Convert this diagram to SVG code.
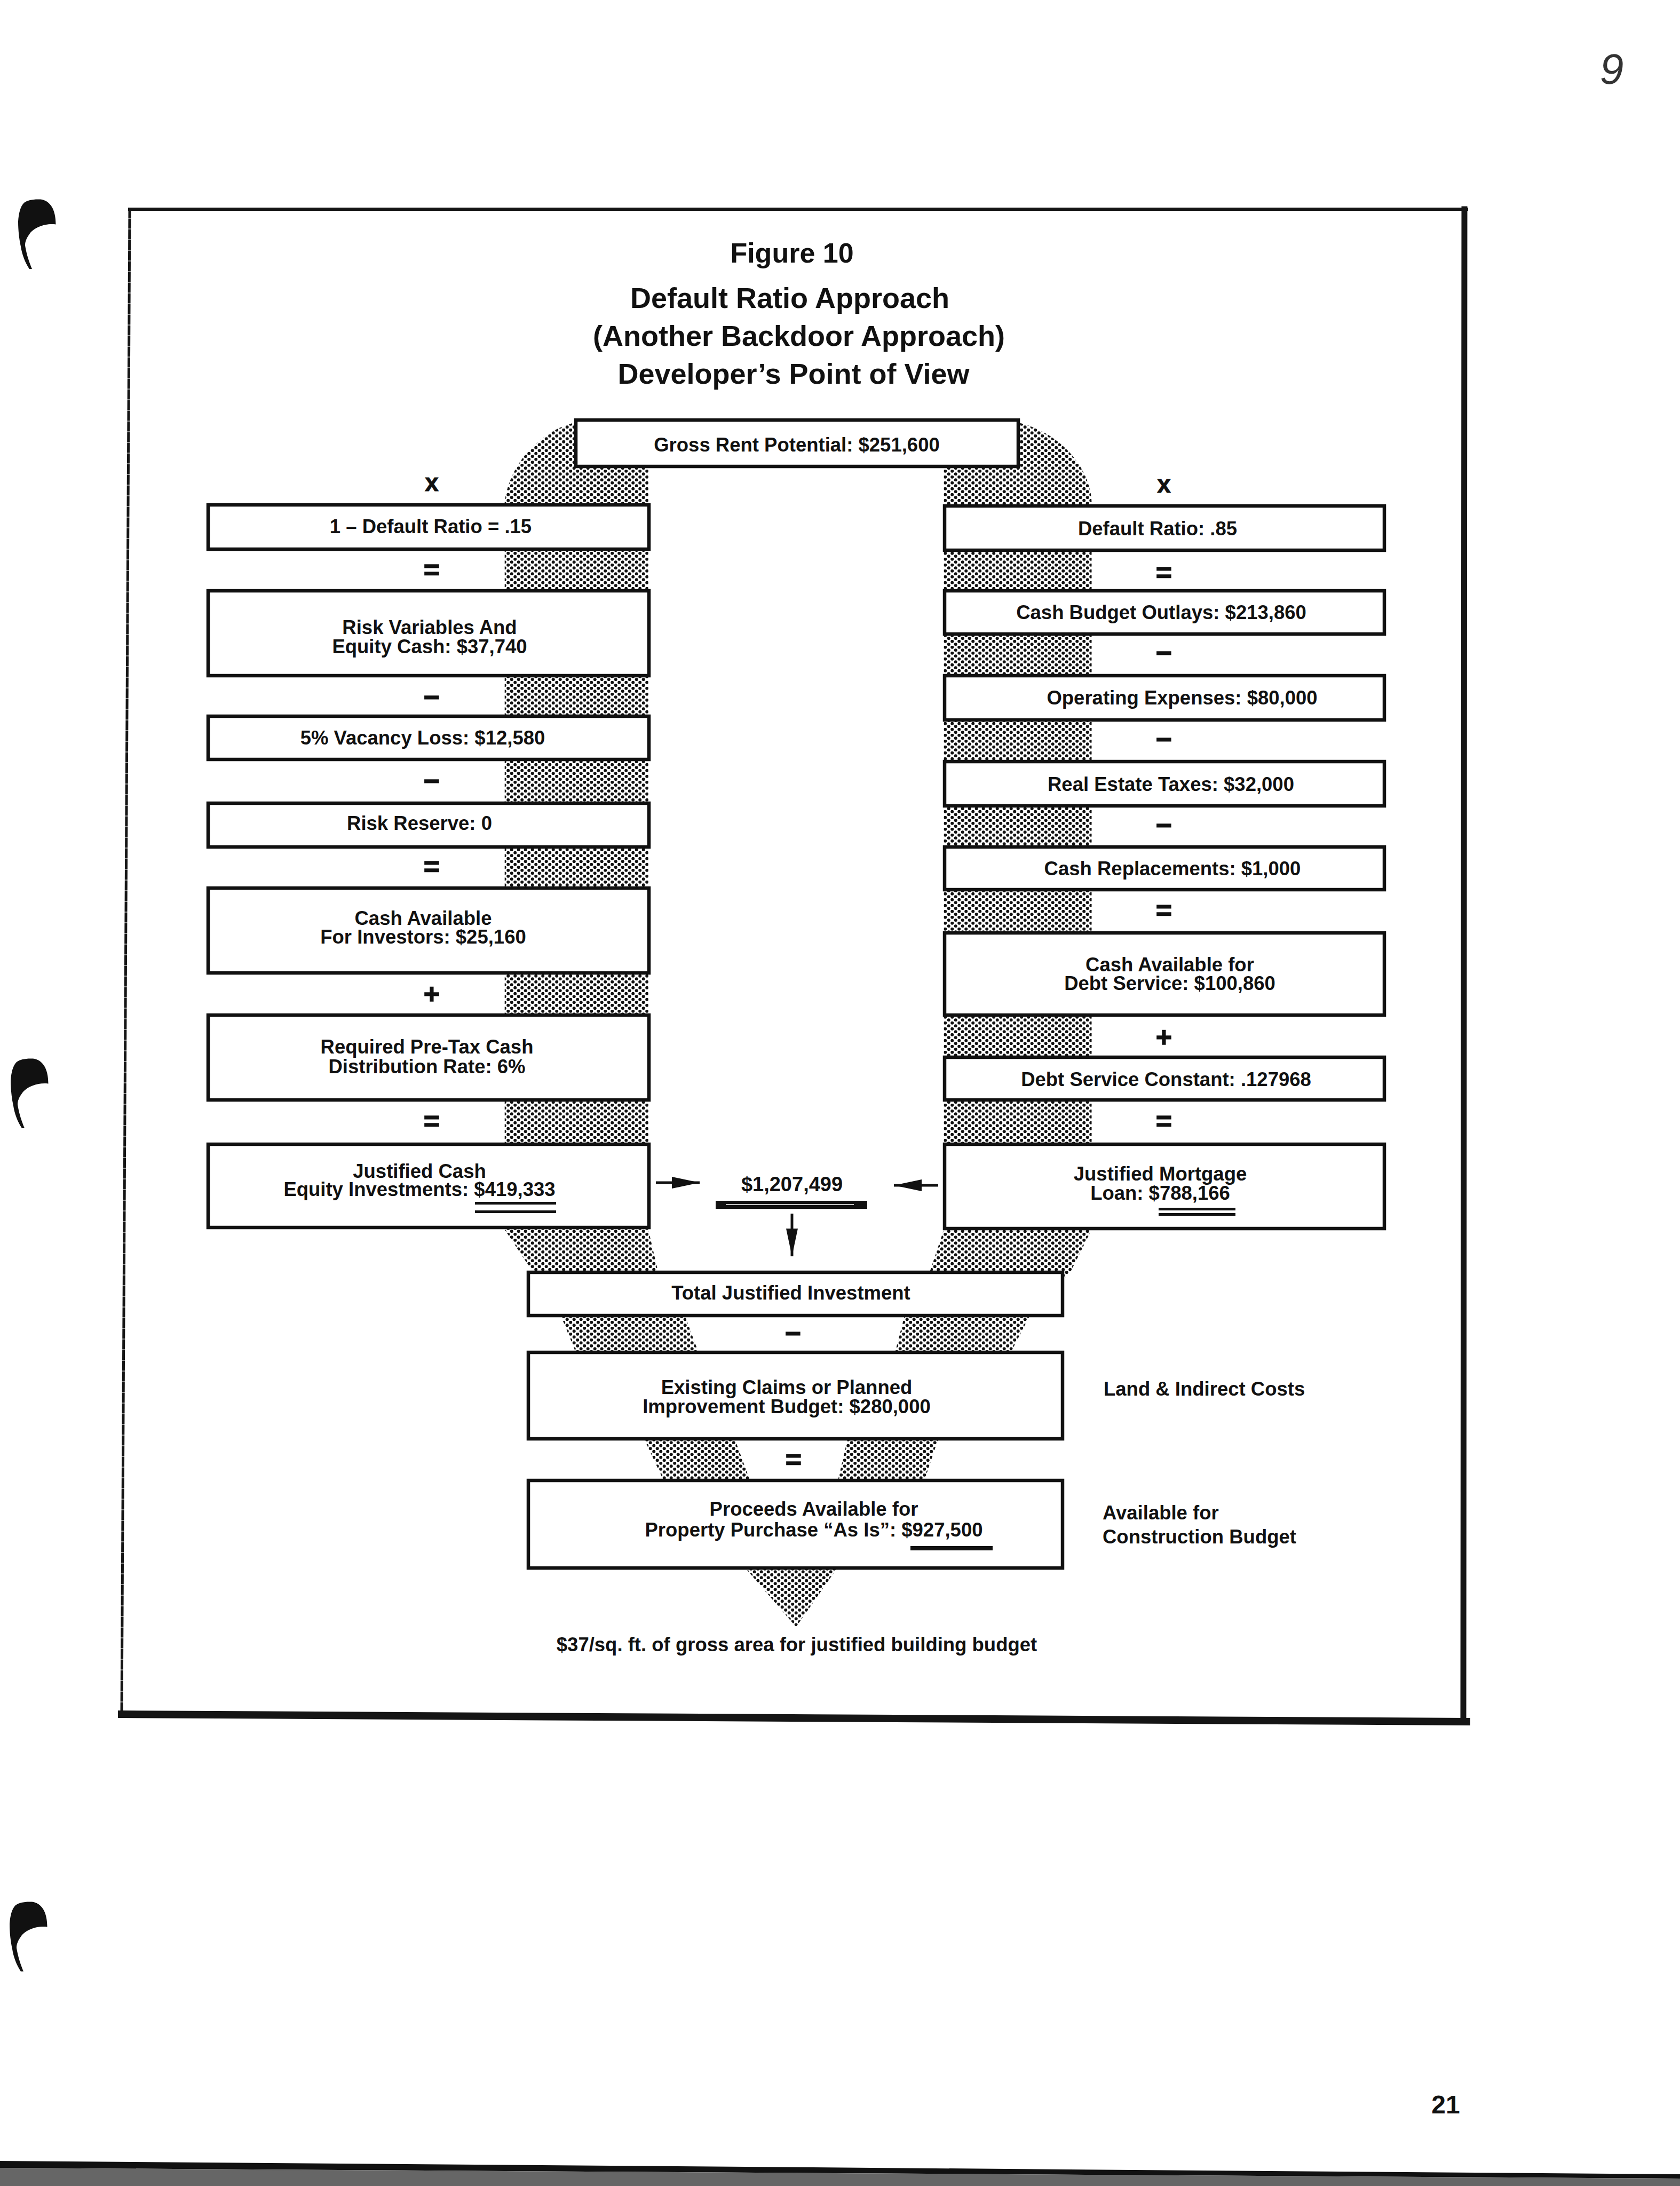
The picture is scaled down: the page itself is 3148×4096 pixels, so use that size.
<svg xmlns="http://www.w3.org/2000/svg" width="3148" height="4096" viewBox="0 0 3148 4096">
<style>
.t{font-family:"Liberation Sans",Arial,Helvetica,sans-serif;font-weight:bold;fill:#111;text-anchor:middle}
.ttl{font-size:54px}
.lbl{font-size:36.5px}
.side{font-size:36.5px;text-anchor:start}
.op{font-size:52px;stroke:#111;stroke-width:1.5}
.opx{font-size:46px;stroke:#111;stroke-width:1}
.box{fill:#fff;stroke:#111;stroke-width:6.5}
.frame{stroke:#151515;fill:none;stroke-linecap:square}
.conn{stroke:#111;stroke-width:5;fill:none}
.ul{fill:#111}
</style>
<defs>
<pattern id="stip" patternUnits="userSpaceOnUse" width="13" height="11">
<circle cx="3.2" cy="2.7" r="3" fill="#111"/>
<circle cx="9.7" cy="8.2" r="3" fill="#111"/>
</pattern>
<marker id="ah" markerUnits="userSpaceOnUse" markerWidth="52" markerHeight="22" viewBox="0 0 52 22" refX="52" refY="11" orient="auto">
<path d="M0,0 L52,11 L0,22 Z" fill="#111"/>
</marker>
<path id="blob" d="M75.8,373.6 C94,376 104.5,392 104.5,420.6 C86,418 63,426 55,439 C50,446 47,452 47,460 C50,478 55,492 60,504 L55,504 C47,492 41,476 39,462 C36,448 34,432 34,415 C35,400 38,387 45,380 C52,375 62,373 75.8,373.6 Z" fill="#111"/>
</defs>
<rect x="0" y="0" width="3148" height="4096" fill="#fff"/>

<g id="page-marks">
<use href="#blob"/>
<use href="#blob" transform="translate(-14,1610)"/>
<use href="#blob" transform="translate(-16,3190)"/>
<text class="t" x="3020" y="157" style="font-size:80px;font-weight:normal;font-style:italic;fill:#333">9</text>
<text class="t" x="2709" y="3960" style="font-size:48px">21</text>
<polygon points="0,4049 3148,4074 3148,4082 0,4062" fill="#111"/>
<polygon points="0,4062 3148,4082 3148,4096 0,4096" fill="#666"/>
</g>

<g id="frame">
<line class="frame" x1="243" y1="392" x2="2748" y2="392" stroke-width="6"/>
<line class="frame" x1="243" y1="392" x2="228" y2="3212" stroke-width="5" stroke-dasharray="14 6"/>
<line class="frame" x1="2744" y1="392" x2="2742" y2="3226" stroke-width="11"/>
<line class="frame" x1="228" y1="3212" x2="2748" y2="3226" stroke-width="14"/>
</g>

<g id="title">
<text class="t" x="1484" y="492" style="font-size:52px">Figure 10</text>
<text class="t ttl" x="1480" y="577">Default Ratio Approach</text>
<text class="t ttl" x="1497" y="648">(Another Backdoor Approach)</text>
<text class="t ttl" x="1487" y="719">Developer’s Point of View</text>
</g>

<g id="stipple">
<path fill="url(#stip)" fill-rule="evenodd" d="M1079,791.6 C1018.8,804.6 956.1,862.1 945.7,940.5 L945.7,2304.1 L997.9,2382.5 L1050.2,2463.5 L1078.9,2534 L1206.9,2696 L1243.5,2774.4 L1395,2936.3 L1491.7,3048.6 L1570,2936.3 L1732,2774.4 L1758.1,2696 L1894,2534 L1930.6,2463.5 L2006.3,2382.5 L2045.5,2304.1 L2045.5,940.5 C2042.9,875.2 1985.4,809.8 1907,791.6 Z M1214.8,836 L1214.8,2304.1 L1233,2382.5 L1282.7,2463.5 L1308.8,2534 L1376.7,2696 L1405.5,2774.4 L1486.5,2873.6 L1570,2774.4 L1588.3,2696 L1677.2,2534 L1695.4,2463.5 L1742.5,2382.5 L1768.6,2304.1 L1768.6,836 Z"/>
</g>

<g id="operators">
<text class="t opx" x="809" y="920">x</text>
<text class="t op" x="809" y="1085">=</text>
<text class="t op" x="809" y="1324">−</text>
<text class="t op" x="809" y="1481">−</text>
<text class="t op" x="809" y="1641">=</text>
<text class="t op" x="809" y="1880">+</text>
<text class="t op" x="809" y="2118">=</text>
<text class="t opx" x="2181" y="923">x</text>
<text class="t op" x="2181" y="1090">=</text>
<text class="t op" x="2181" y="1241">−</text>
<text class="t op" x="2181" y="1403">−</text>
<text class="t op" x="2181" y="1564">−</text>
<text class="t op" x="2181" y="1723">=</text>
<text class="t op" x="2181" y="1961">+</text>
<text class="t op" x="2181" y="2118">=</text>
<text class="t op" x="1486" y="2516">−</text>
<text class="t op" x="1487" y="2752">=</text>
</g>

<g id="connectors">
<line class="conn" x1="1229" y1="2216" x2="1311" y2="2216" marker-end="url(#ah)"/>
<line class="conn" x1="1758" y1="2221" x2="1675" y2="2221" marker-end="url(#ah)"/>
<line class="conn" x1="1484" y1="2274" x2="1484" y2="2354" marker-end="url(#ah)"/>
</g>

<g id="n-gross">
<rect class="box" x="1079" y="787" width="829" height="87"/>
<text class="t lbl" x="1493" y="846">Gross Rent Potential: $251,600</text>
</g>

<g id="n-one-minus-default">
<rect class="box" x="390" y="946" width="826" height="83"/>
<text class="t lbl" x="807" y="999">1 – Default Ratio = .15</text>
</g>
<g id="n-risk-variables">
<rect class="box" x="390" y="1107" width="826" height="159"/>
<text class="t lbl" x="805" y="1188">Risk Variables And</text>
<text class="t lbl" x="805" y="1224">Equity Cash: $37,740</text>
</g>
<g id="n-vacancy">
<rect class="box" x="390" y="1342" width="826" height="81"/>
<text class="t lbl" x="792" y="1395">5% Vacancy Loss: $12,580</text>
</g>
<g id="n-risk-reserve">
<rect class="box" x="390" y="1505" width="826" height="82"/>
<text class="t lbl" x="786" y="1555">Risk Reserve: 0</text>
</g>
<g id="n-cash-investors">
<rect class="box" x="390" y="1664" width="826" height="159"/>
<text class="t lbl" x="793" y="1733">Cash Available</text>
<text class="t lbl" x="793" y="1768">For Investors: $25,160</text>
</g>
<g id="n-required-rate">
<rect class="box" x="390" y="1902" width="826" height="159"/>
<text class="t lbl" x="800" y="1974">Required Pre-Tax Cash</text>
<text class="t lbl" x="800" y="2011">Distribution Rate: 6%</text>
</g>
<g id="n-justified-cash">
<rect class="box" x="390" y="2144" width="826" height="156"/>
<text class="t lbl" x="786" y="2207">Justified Cash</text>
<text class="t lbl" x="786" y="2241">Equity Investments: $419,333</text>
<rect class="ul" x="890" y="2252" width="152" height="5"/>
<rect class="ul" x="890" y="2268" width="152" height="5"/>
</g>

<g id="n-default-ratio">
<rect class="box" x="1770" y="948" width="824" height="83"/>
<text class="t lbl" x="2169" y="1003">Default Ratio: .85</text>
</g>
<g id="n-cash-budget">
<rect class="box" x="1770" y="1107" width="824" height="81"/>
<text class="t lbl" x="2176" y="1160">Cash Budget Outlays: $213,860</text>
</g>
<g id="n-operating">
<rect class="box" x="1770" y="1266" width="824" height="83"/>
<text class="t lbl" x="2215" y="1320">Operating Expenses: $80,000</text>
</g>
<g id="n-taxes">
<rect class="box" x="1770" y="1427" width="824" height="83"/>
<text class="t lbl" x="2194" y="1482">Real Estate Taxes: $32,000</text>
</g>
<g id="n-replacements">
<rect class="box" x="1770" y="1587" width="824" height="80"/>
<text class="t lbl" x="2197" y="1640">Cash Replacements: $1,000</text>
</g>
<g id="n-cash-debt">
<rect class="box" x="1770" y="1748" width="824" height="154"/>
<text class="t lbl" x="2192" y="1820">Cash Available for</text>
<text class="t lbl" x="2192" y="1855">Debt Service: $100,860</text>
</g>
<g id="n-constant">
<rect class="box" x="1770" y="1981" width="824" height="80"/>
<text class="t lbl" x="2185" y="2035">Debt Service Constant: .127968</text>
</g>
<g id="n-mortgage">
<rect class="box" x="1770" y="2144" width="824" height="158"/>
<text class="t lbl" x="2174" y="2212">Justified Mortgage</text>
<text class="t lbl" x="2174" y="2248">Loan: $788,166</text>
<rect class="ul" x="2171" y="2263" width="144" height="5"/>
<rect class="ul" x="2171" y="2273" width="144" height="5"/>
</g>

<g id="n-total-sum">
<text class="t" x="1484" y="2232" style="font-size:38px">$1,207,499</text>
<rect class="ul" x="1341" y="2250" width="284" height="15"/>
<line x1="1360" y1="2257" x2="1600" y2="2257" stroke="#fff" stroke-width="1.5"/>
</g>

<g id="n-total-justified">
<rect class="box" x="990" y="2384" width="1001" height="81"/>
<text class="t lbl" x="1482" y="2435">Total Justified Investment</text>
</g>
<g id="n-existing-claims">
<rect class="box" x="990" y="2534" width="1001" height="162"/>
<text class="t lbl" x="1474" y="2612">Existing Claims or Planned</text>
<text class="t lbl" x="1474" y="2648">Improvement Budget: $280,000</text>
</g>
<g id="n-proceeds">
<rect class="box" x="990" y="2774" width="1001" height="164"/>
<text class="t lbl" x="1525" y="2840">Proceeds Available for</text>
<text class="t lbl" x="1525" y="2879">Property Purchase “As Is”: $927,500</text>
<rect class="ul" x="1706" y="2897" width="154" height="8"/>
</g>

<g id="side-labels">
<text class="t side" x="2068" y="2615">Land &amp; Indirect Costs</text>
<text class="t side" x="2066" y="2847">Available for</text>
<text class="t side" x="2066" y="2892">Construction Budget</text>
<text class="t lbl" x="1493" y="3094">$37/sq. ft. of gross area for justified building budget</text>
</g>
</svg>
